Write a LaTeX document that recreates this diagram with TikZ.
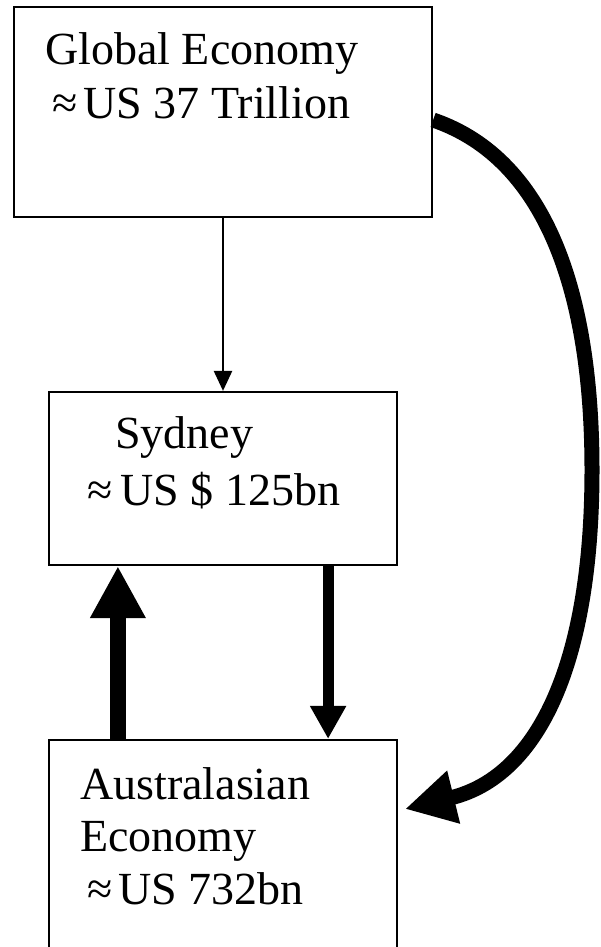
\documentclass[tikz,border=0pt]{standalone}
\usepackage{fontspec}
\setmainfont{Liberation Serif}
\usetikzlibrary{arrows.meta, positioning, calc}

\begin{document}
\begin{tikzpicture}[x=1pt, y=-1pt,
  box/.style={draw, line width=2.2pt, inner sep=0pt},
  lbl/.style={font=\fontsize{46}{53}\selectfont, inner sep=0pt, anchor=base west},
  thinflow/.style={line width=2.5pt, -{Triangle[length=20pt, width=18pt]}},
  upflow/.style={line width=16pt, -{Triangle[length=52pt, width=52pt]}},
  downflow/.style={line width=11pt, -{Triangle[length=33pt, width=34pt]}},
  curveflow/.style={line width=15pt, -{Triangle[length=50pt, width=51pt]}},
]
  \fill[white] (0,0) rectangle (601,947);
  \useasboundingbox (0,0) rectangle (601,947);

  % boxes
  \node[box, minimum width=418pt, minimum height=210pt] (global) at (223,112) {};
  \node[box, minimum width=348pt, minimum height=173pt] (sydney) at (223,478.5) {};
  \node[box, minimum width=348pt, minimum height=220pt] (aus) at (223,850) {};

  % labels
  \node[lbl] (global1) at (45,65) {Global Economy};
  \node[lbl] (global2) at (52,118) {≈\kern6pt US 37 Trillion};
  \node[lbl] (sydney1) at (115,448) {Sydney};
  \node[lbl] (sydney2) at (87,505) {≈\kern8pt US \$ 125bn};
  \node[lbl] (aus1) at (80,799) {Australasian};
  \node[lbl] (aus2) at (80,851) {Economy};
  \node[lbl] (aus3) at (87,904) {≈\kern6pt US 732bn};

  % flows
  \draw[thinflow] (global.south) -- (sydney.north);
  \draw[upflow] ([xshift=70pt]aus.north west) -- ([xshift=70pt]sydney.south west);
  \draw[downflow] ([xshift=-70pt]sydney.south east) -- ([xshift=-70pt]aus.north east);
  \draw[curveflow] ($(global.east)+(0,8)$) .. controls (550,160) and (592,300) .. (592,470)
    .. controls (592,660) and (540,776) .. ($(aus.east)+(7,-41)$);
\end{tikzpicture}
\end{document}
